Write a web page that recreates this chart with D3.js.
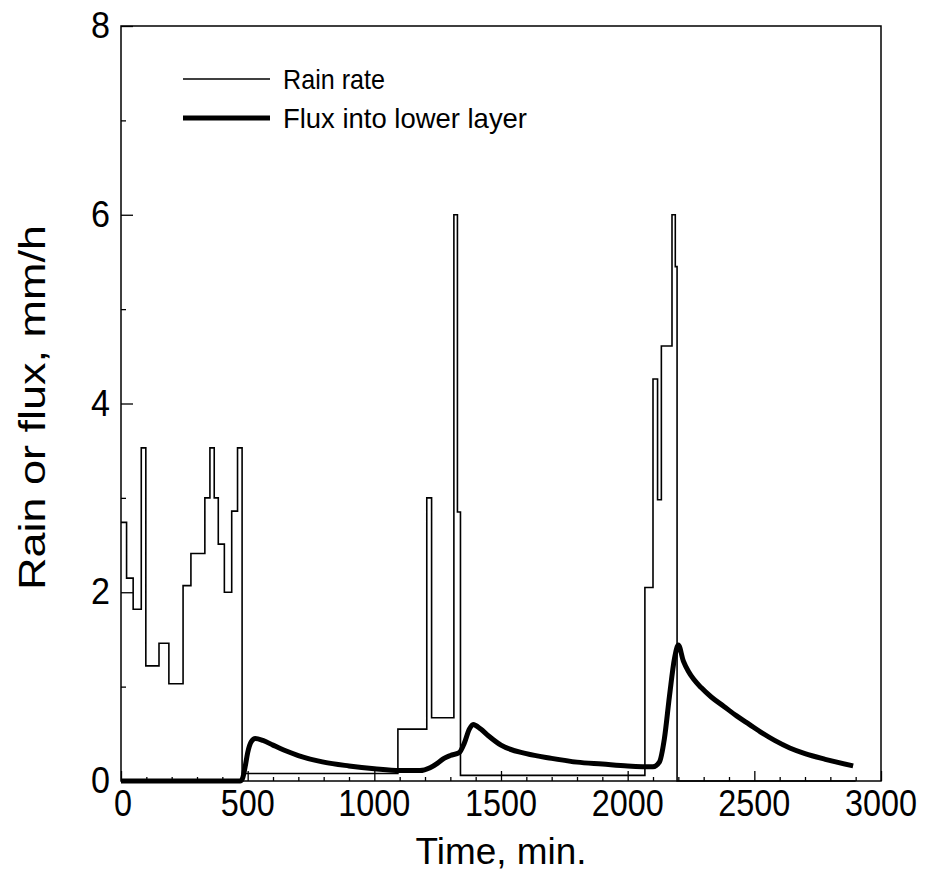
<!DOCTYPE html>
<html>
<head>
<meta charset="utf-8">
<script src="https://cdn.jsdelivr.net/npm/d3@7"></script>
<style>
  body { margin: 0; background: #fff; }
  text { font-family: "Liberation Sans", Arial, sans-serif; fill: #000; }
</style>
</head>
<body>
<div id="chart"></div>
<script>
// Rain rate: step series, value holds from each time until the next one
const rainTime = [0, 22, 48, 80, 98, 150, 189, 245, 276, 331, 351, 368, 384, 408, 437, 460, 478,
  1093, 1207, 1226, 1314, 1328, 1340, 2068, 2100, 2118, 2133, 2175, 2188, 2195, 2900];
const rainRate = [2.74, 2.15, 1.82, 3.53, 1.22, 1.46, 1.03, 2.07, 2.41, 3.0, 3.53, 3.0, 2.51, 2.0, 2.86, 3.53, 0.08,
  0.55, 3.0, 0.67, 6.0, 2.85, 0.06, 2.05, 4.26, 2.98, 4.61, 6.0, 5.45, 0, 0];

// Flux into lower layer
const fluxTime = [0, 470, 480, 490, 500, 515, 530, 560, 600, 650, 700, 800, 900, 1000, 1100, 1180, 1220, 1250,
  1275, 1300, 1335, 1355, 1375, 1390, 1420, 1450, 1500, 1600, 1700, 1800, 1900, 2000, 2100, 2125, 2145, 2165,
  2185, 2200, 2220, 2240, 2260, 2290, 2330, 2380, 2430, 2480, 2530, 2580, 2640, 2700, 2780, 2890];
const fluxRate = [0, 0, 0.03, 0.15, 0.3, 0.42, 0.45, 0.43, 0.38, 0.32, 0.27, 0.2, 0.16, 0.13, 0.11, 0.11, 0.14, 0.19,
  0.24, 0.27, 0.3, 0.4, 0.55, 0.6, 0.55, 0.48, 0.38, 0.29, 0.24, 0.2, 0.18, 0.16, 0.15, 0.2, 0.45, 0.9,
  1.3, 1.44, 1.27, 1.16, 1.08, 0.99, 0.89, 0.79, 0.69, 0.6, 0.51, 0.43, 0.35, 0.29, 0.23, 0.16];

const xTicks = [0, 500, 1000, 1500, 2000, 2500, 3000];
const yTicks = [0, 2, 4, 6, 8];
const seriesNames = ["Rain rate", "Flux into lower layer"];

var width = 928, height = 877;
var margin = { top: 26, right: 47, bottom: 96, left: 121 };

var svg = d3.select("#chart").append("svg")
  .attr("width", width)
  .attr("height", height);

var x = d3.scaleLinear().domain([0, 3000]).range([margin.left, width - margin.right]);
var y = d3.scaleLinear().domain([0, 8]).range([height - margin.bottom, margin.top]);

// condensed look: squeeze text to the width it has in the original
function squeeze(sel, w) {
  sel.attr("textLength", w).attr("lengthAdjust", "spacingAndGlyphs");
}

// data lines
var rain = rainTime.map((t, i) => [t, rainRate[i]]);
var flux = fluxTime.map((t, i) => [t, fluxRate[i]]);

svg.append("path")
  .datum(rain)
  .attr("fill", "none")
  .attr("stroke", "#000")
  .attr("stroke-width", 1.6)
  .attr("d", d3.line().x(d => x(d[0])).y(d => y(d[1])).curve(d3.curveStepAfter));

svg.append("path")
  .datum(flux)
  .attr("fill", "none")
  .attr("stroke", "#000")
  .attr("stroke-width", 5)
  .attr("stroke-linejoin", "round")
  .attr("d", d3.line().x(d => x(d[0])).y(d => y(d[1])).curve(d3.curveMonotoneX));

// frame
svg.append("rect")
  .attr("x", x(0)).attr("y", y(8))
  .attr("width", x(3000) - x(0)).attr("height", y(0) - y(8))
  .attr("fill", "none").attr("stroke", "#000").attr("stroke-width", 1.5);

// x axis: ticks point inward
var xAxis = svg.append("g")
  .attr("transform", "translate(0," + y(0) + ")");
xAxis.call(d3.axisTop(x).tickValues(d3.range(0, 3001, 100)).tickSize(4).tickFormat(""))
  .select(".domain").remove();
xAxis.selectAll("line").attr("stroke-width", 1.3);
xAxis.selectAll(".tick").filter(d => d % 500 === 0).select("line").attr("y2", -10);

svg.append("g").selectAll("text")
  .data(xTicks).enter().append("text")
  .attr("x", d => x(d) + (d === 0 ? 2 : 0))
  .attr("y", y(0) + 35)
  .attr("text-anchor", "middle")
  .style("font-size", "37px")
  .text(d => d)
  .each(function (d) { squeeze(d3.select(this), String(d).length * 18); });

// y axis
var yAxis = svg.append("g")
  .attr("transform", "translate(" + x(0) + ",0)");
yAxis.call(d3.axisRight(y).tickValues(d3.range(0, 9, 1)).tickSize(5).tickFormat(""))
  .select(".domain").remove();
yAxis.selectAll("line").attr("stroke-width", 1.3);
yAxis.selectAll(".tick").filter(d => d % 2 === 0).select("line").attr("x2", 12);

svg.append("g").selectAll("text")
  .data(yTicks).enter().append("text")
  .attr("x", x(0) - 11)
  .attr("y", d => y(d) + 12)
  .attr("text-anchor", "end")
  .style("font-size", "37px")
  .text(d => d)
  .call(squeeze, 19);

// axis titles
svg.append("text")
  .attr("x", (x(0) + x(3000)) / 2)
  .attr("y", 864)
  .attr("text-anchor", "middle")
  .style("font-size", "36px")
  .text("Time, min.")
  .call(squeeze, 171);

svg.append("text")
  .attr("transform", "translate(45," + ((y(0) + y(8)) / 2 + 4) + ") rotate(-90)")
  .attr("text-anchor", "middle")
  .style("font-size", "36px")
  .text("Rain or flux, mm/h")
  .call(squeeze, 365);

// legend
var legend = svg.append("g");
[1.6, 5].forEach(function (w, i) {
  legend.append("line")
    .attr("x1", 183).attr("x2", 270)
    .attr("y1", 79 + i * 39).attr("y2", 79 + i * 39)
    .attr("stroke", "#000").attr("stroke-width", w);
  legend.append("text")
    .attr("x", 283)
    .attr("y", 89 + i * 39)
    .style("font-size", "28px")
    .text(seriesNames[i])
    .call(squeeze, i === 0 ? 102 : 244);
});
</script>
</body>
</html>
